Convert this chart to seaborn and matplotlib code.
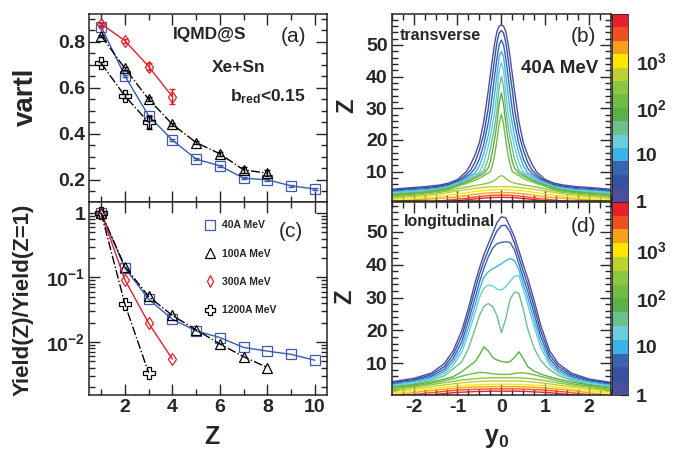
import numpy as np
import pandas as pd
import matplotlib
matplotlib.use("Agg")
import matplotlib.pyplot as plt
import seaborn as sns
from matplotlib.colors import ListedColormap, LogNorm
from matplotlib.cm import ScalarMappable
from matplotlib.ticker import MultipleLocator, FixedLocator, FixedFormatter, LogLocator, NullFormatter
from matplotlib.lines import Line2D

# ---------------- left panels: vartl and yields vs Z ----------------
z_charge = [1, 2, 3, 4, 5, 6, 7, 8, 9, 10]

vartl_40 = [0.865, 0.651, 0.478, 0.372, 0.290, 0.261, 0.207, 0.200, 0.174, 0.160]
vartl_100 = [0.825, 0.684, 0.550, 0.441, 0.362, 0.313, 0.243, 0.229]
vartl_300 = [0.877, 0.804, 0.692, 0.561]
vartl_1200 = [0.706, 0.564, 0.449]
err_40 = [0.003, 0.004, 0.004, 0.004, 0.004, 0.004, 0.005, 0.005, 0.005, 0.005]
err_100 = [0.005, 0.008, 0.008, 0.006, 0.006, 0.008, 0.012, 0.012]
err_300 = [0.006, 0.008, 0.017, 0.033]
err_1200 = [0.006, 0.010, 0.030]

yield_40 = [1.0, 0.140, 0.046, 0.0225, 0.0148, 0.0117, 0.0082, 0.0072, 0.0064, 0.0052]
yield_100 = [1.0, 0.148, 0.0507, 0.0257, 0.0154, 0.0093, 0.0059, 0.0040]
yield_300 = [1.0, 0.092, 0.0195, 0.0054]
yield_1200 = [1.0, 0.0385, 0.0033]

energies = ["40A MeV", "100A MeV", "300A MeV", "1200A MeV"]

# ---------------- right panels: contour lines Z(y0) per level ----------------
# level edges: 14 bands from 1 to 1e4 (log)
band_colors = ["#4c4ea0", "#3452a0", "#3a64b0", "#3ab4e8", "#6cccdc", "#6cc08c", "#5bb04a",
               "#72bb45", "#8dc641", "#bdd133", "#ffe600", "#f7a11a", "#f04e23", "#e8202a"]

# (b) transverse, symmetric: right half only
y0_half_b = [0, 0.05, 0.1, 0.15, 0.2, 0.25, 0.3, 0.4, 0.5, 0.6, 0.7, 0.8, 0.9, 1.0, 1.2, 1.4, 1.7, 2.0, 2.5]
z_trans = [
    [56.3, 55.9, 54.3, 50.7, 46.0, 40.7, 35.4, 25.8, 19.2, 15.3, 12.3, 10.0, 8.75, 7.5, 6.4, 5.8, 5.3, 5.0, 4.45],
    [54.5, 53.8, 50.8, 46.0, 40.7, 35.7, 29.8, 21.9, 16.8, 13.0, 10.5, 9.1, 7.95, 7.15, 6.0, 5.45, 4.95, 4.7, 4.15],
    [51.5, 50.0, 45.8, 40.6, 35.0, 29.5, 25.3, 18.7, 14.0, 11.1, 9.4, 8.4, 7.45, 6.85, 5.7, 5.15, 4.65, 4.4, 3.85],
    [47.9, 46.3, 40.6, 34.8, 29.2, 25.1, 21.3, 15.8, 11.85, 9.6, 8.7, 7.8, 7.1, 6.55, 5.45, 4.85, 4.35, 4.1, 3.55],
    [44.4, 42.0, 35.0, 28.9, 24.8, 21.1, 17.9, 12.8, 9.8, 9.0, 8.1, 7.35, 6.8, 6.3, 5.2, 4.6, 4.05, 3.8, 3.25],
    [40.0, 36.8, 29.5, 24.6, 20.8, 17.3, 14.0, 10.35, 9.25, 8.4, 7.6, 7.0, 6.5, 6.0, 4.95, 4.35, 3.8, 3.5, 2.95],
    [34.9, 31.3, 25.2, 20.6, 16.6, 13.2, 11.2, 9.47, 8.7, 7.95, 7.3, 6.77, 6.26, 5.74, 4.7, 4.1, 3.55, 3.2, 2.65],
    [28.1, 25.0, 20.0, 15.5, 12.3, 10.0, 9.58, 8.75, 7.92, 7.26, 6.78, 6.3, 5.83, 5.35, 4.4, 3.85, 3.3, 2.9, 2.35],
    [8.7, 8.5, 7.9, 7.3, 6.9, 6.6, 6.4, 6.1, 5.85, 5.6, 5.35, 5.1, 4.85, 4.6, 3.95, 3.45, 2.95, 2.55, 2.05],
    [5.3, 5.3, 5.28, 5.25, 5.22, 5.18, 5.13, 5.0, 4.85, 4.7, 4.5, 4.3, 4.1, 3.9, 3.45, 3.0, 2.5, 2.15, 1.7],
    [4.3, 4.3, 4.28, 4.26, 4.24, 4.2, 4.15, 4.05, 3.9, 3.75, 3.55, 3.35, 3.15, 2.95, 2.6, 2.25, 1.85, 1.5, 1.1],
    [3.4, 3.4, 3.38, 3.36, 3.33, 3.3, 3.25, 3.15, 3.0, 2.85, 2.65, 2.45, 2.25, 2.05, 1.8, 1.6, 1.3, 1.05, 0.5],
    [2.6, 2.6, 2.58, 2.55, 2.52, 2.48, 2.43, 2.3, 2.15, 1.98, 1.8, 1.6, 1.45, 1.35, 1.05, 0.75, 0.3, 0.0, 0.0],
    [1.9, 1.9, 1.88, 1.86, 1.83, 1.8, 1.76, 1.66, 1.54, 1.4, 1.25, 1.1, 0.95, 0.8, 0.45, 0.1, 0.0, 0.0, 0.0],
]

# (d) longitudinal, full range
y0_d = [-2.5, -2.0, -1.6, -1.3, -1.1, -0.9, -0.75, -0.6, -0.5, -0.4, -0.3, -0.2, -0.1, 0,
        0.1, 0.2, 0.3, 0.4, 0.5, 0.6, 0.75, 0.9, 1.1, 1.3, 1.6, 2.0, 2.5]
z_long = [
    [4.4, 5.4, 7.0, 9.9, 13.8, 20.0, 26.8, 34.5, 39.0, 43.0, 46.3, 49.5, 52.8, 54.6, 54.3, 51.5, 48.5, 44.3, 40.0, 36.0, 29.0, 21.5, 13.8, 9.9, 7.0, 5.2, 4.2],
    [4.1, 5.0, 6.5, 9.0, 12.6, 18.3, 25.0, 32.3, 37.0, 41.0, 44.3, 47.5, 50.3, 51.9, 52.0, 50.0, 46.5, 42.3, 38.0, 34.0, 27.0, 19.7, 12.6, 9.1, 6.5, 4.9, 3.9],
    [3.8, 4.7, 6.0, 8.2, 11.4, 16.6, 23.0, 29.9, 34.7, 38.8, 42.3, 45.0, 46.4, 46.8, 47.0, 46.8, 44.5, 40.3, 36.0, 32.0, 25.0, 18.0, 11.5, 8.3, 6.0, 4.6, 3.6],
    [3.5, 4.4, 5.6, 7.5, 10.3, 15.0, 21.0, 27.6, 32.4, 36.2, 37.8, 38.8, 39.5, 40.3, 41.2, 41.9, 41.3, 38.5, 34.2, 30.0, 23.0, 16.3, 10.5, 7.6, 5.6, 4.3, 3.3],
    [3.2, 4.1, 5.2, 6.9, 9.3, 13.5, 19.0, 25.3, 30.0, 32.8, 33.8, 33.6, 32.6, 32.3, 33.3, 35.0, 36.5, 36.8, 32.5, 28.0, 21.0, 14.7, 9.5, 7.0, 5.2, 4.0, 3.0],
    [2.9, 3.7, 4.8, 6.2, 8.3, 10.5, 14.5, 20.5, 24.5, 27.3, 28.2, 27.3, 24.5, 19.3, 23.5, 29.5, 31.7, 31.3, 26.5, 20.5, 14.5, 10.8, 8.0, 6.3, 4.8, 3.6, 2.7],
    [2.6, 3.4, 4.3, 5.2, 5.9, 7.5, 9.0, 10.5, 12.5, 15.0, 13.8, 11.8, 11.0, 10.6, 10.3, 10.5, 11.8, 13.5, 11.5, 9.0, 7.6, 6.7, 5.9, 5.2, 4.3, 3.4, 2.4],
    [2.1, 3.1, 3.9, 4.7, 5.3, 6.1, 6.6, 7.0, 7.2, 7.2, 7.0, 6.8, 6.7, 6.6, 6.6, 6.7, 6.9, 7.1, 7.1, 6.9, 6.5, 6.0, 5.3, 4.6, 3.8, 3.0, 2.0],
    [1.8, 2.8, 3.5, 4.1, 4.5, 4.9, 5.1, 5.3, 5.4, 5.5, 5.55, 5.6, 5.6, 5.6, 5.6, 5.6, 5.6, 5.6, 5.5, 5.4, 5.2, 4.9, 4.5, 4.0, 3.4, 2.7, 1.7],
    [1.4, 2.3, 2.9, 3.4, 3.75, 4.05, 4.25, 4.4, 4.5, 4.55, 4.58, 4.6, 4.6, 4.6, 4.6, 4.6, 4.6, 4.58, 4.55, 4.45, 4.25, 4.05, 3.75, 3.35, 2.85, 2.25, 1.35],
    [0.9, 1.7, 2.3, 2.7, 3.0, 3.2, 3.35, 3.45, 3.5, 3.55, 3.58, 3.6, 3.6, 3.6, 3.6, 3.6, 3.6, 3.58, 3.55, 3.48, 3.35, 3.2, 3.0, 2.7, 2.25, 1.65, 0.85],
    [0.3, 1.1, 1.7, 2.1, 2.35, 2.55, 2.7, 2.78, 2.83, 2.87, 2.89, 2.9, 2.9, 2.9, 2.9, 2.9, 2.9, 2.88, 2.85, 2.8, 2.7, 2.55, 2.35, 2.1, 1.7, 1.05, 0.25],
    [0.0, 0.5, 1.05, 1.45, 1.7, 1.9, 2.0, 2.08, 2.13, 2.16, 2.18, 2.2, 2.2, 2.2, 2.2, 2.2, 2.2, 2.18, 2.15, 2.1, 2.0, 1.9, 1.7, 1.45, 1.05, 0.45, 0.0],
    [0.0, 0.0, 0.4, 0.8, 1.05, 1.2, 1.3, 1.38, 1.42, 1.45, 1.48, 1.5, 1.5, 1.5, 1.5, 1.5, 1.5, 1.48, 1.45, 1.4, 1.3, 1.2, 1.05, 0.8, 0.4, 0.0, 0.0],
]

# ---------------- style ----------------
sns.set_theme(style="ticks")
plt.rcParams["font.family"] = ["Liberation Sans", "DejaVu Sans"]
plt.rcParams["font.weight"] = "bold"
plt.rcParams["mathtext.fontset"] = "custom"
plt.rcParams["mathtext.rm"] = "Liberation Sans:bold"
plt.rcParams["mathtext.bf"] = "Liberation Sans:bold"
plt.rcParams["mathtext.default"] = "bf"
plt.rcParams["axes.linewidth"] = 1.1
plt.rcParams["axes.unicode_minus"] = False

W, H = 681, 451
fig = plt.figure(figsize=(W / 100, H / 100), dpi=100)


def px_axes(x0, y0, x1, y1):
    return fig.add_axes([x0 / W, 1 - y1 / H, (x1 - x0) / W, (y1 - y0) / H])


def px_text(x, y, s, **kw):
    fig.text(x / W, 1 - y / H, s, **kw)


ax_a = px_axes(89.3, 14, 326.7, 201.7)
ax_c = px_axes(89.3, 201.7, 326.7, 395)
ax_b = px_axes(391.7, 13.5, 611, 200.5)
ax_d = px_axes(391.7, 202, 611, 395)
cax_b = px_axes(611.7, 14, 627.7, 201.7)
cax_d = px_axes(611.7, 201.7, 627.7, 395)

blue = "#3a5bb0"
red = "#e5202a"
styles = {
    "40A MeV": dict(color=blue, marker="s", linestyle="-", ms=7.5),
    "100A MeV": dict(color="black", marker="^", linestyle="-.", ms=7.5),
    "300A MeV": dict(color=red, marker="d", linestyle="-", ms=6.5),
    "1200A MeV": dict(color="black", marker="P", linestyle="-.", ms=8),
}
vartl_sets = [vartl_40, vartl_100, vartl_300, vartl_1200]
err_sets = [err_40, err_100, err_300, err_1200]
yield_sets = [yield_40, yield_100, yield_300, yield_1200]

for name, v, e, yv in zip(energies, vartl_sets, err_sets, yield_sets):
    st = styles[name]
    zz = z_charge[:len(v)]
    ax_a.errorbar(zz, v, yerr=e, fmt="none", ecolor=st["color"], elinewidth=1, capsize=2)
    sns.lineplot(x=zz, y=v, ax=ax_a, color=st["color"], marker=st["marker"], ms=st["ms"],
                 mfc="none", mec=st["color"], mew=0.9, linestyle=st["linestyle"], lw=1.0,
                 errorbar=None)
    zz = z_charge[:len(yv)]
    sns.lineplot(x=zz, y=yv, ax=ax_c, color=st["color"], marker=st["marker"], ms=st["ms"],
                 mfc="none", mec=st["color"], mew=0.9, linestyle=st["linestyle"], lw=1.0,
                 errorbar=None)

for ax in (ax_a, ax_c):
    ax.set_xlim(0.5, 10.5)
    ax.xaxis.set_major_locator(MultipleLocator(2))
    ax.xaxis.set_minor_locator(MultipleLocator(1))
    ax.set_xlabel("")
    ax.set_ylabel("")

ax_a.set_ylim(0.105, 0.92)
ax_a.yaxis.set_major_locator(FixedLocator([0.2, 0.4, 0.6, 0.8]))
ax_a.yaxis.set_major_formatter(FixedFormatter(["0.2", "0.4", "0.6", "0.8"]))
ax_a.yaxis.set_minor_locator(MultipleLocator(0.05))
ax_a.tick_params(labelbottom=False)

ax_c.set_yscale("log")
ax_c.set_ylim(0.0015, 1.5)
ax_c.yaxis.set_major_locator(FixedLocator([0.01, 0.1, 1]))
ax_c.yaxis.set_major_formatter(FixedFormatter(["10$^{-2}$", "10$^{-1}$", "1"]))
ax_c.yaxis.set_minor_locator(LogLocator(base=10, subs=np.arange(2, 10)))
ax_c.yaxis.set_minor_formatter(NullFormatter())

handles = [Line2D([], [], linestyle="none", marker=styles[n]["marker"], ms=styles[n]["ms"] * 0.9,
                  mfc="none", mec=styles[n]["color"], mew=0.9) for n in energies]
ax_c.legend(handles, energies, loc="upper left", bbox_to_anchor=(204.8 / W, 1 - 220.5 / H),
            bbox_transform=fig.transFigure, frameon=False, fontsize=7.5, borderpad=0,
            borderaxespad=0, handlelength=1.0, handletextpad=0.65, labelspacing=1.75)

# ---------------- contour panels ----------------
y0_b = [-v for v in y0_half_b[:0:-1]] + y0_half_b
rows_b = []
for k, zh in enumerate(z_trans):
    zf = zh[:0:-1] + zh
    rows_b += [dict(y0=a, Z=b, level=k) for a, b in zip(y0_b, zf)]
df_b = pd.DataFrame(rows_b)

rows_d = []
for k, zl in enumerate(z_long):
    rows_d += [dict(y0=a, Z=b, level=k) for a, b in zip(y0_d, zl)]
df_d = pd.DataFrame(rows_d)

pal = dict(zip(range(len(band_colors)), band_colors))
sns.lineplot(data=df_b, x="y0", y="Z", hue="level", palette=pal, estimator=None,
             sort=False, legend=False, lw=1.0, ax=ax_b)
sns.lineplot(data=df_d, x="y0", y="Z", hue="level", palette=pal, estimator=None,
             sort=False, legend=False, lw=1.0, ax=ax_d)

ax_b.set_ylim(0.9, 59.9)
ax_d.set_ylim(0.35, 59.1)
for ax in (ax_b, ax_d):
    ax.set_xlim(-2.5, 2.5)
    ax.xaxis.set_major_locator(MultipleLocator(1))
    ax.xaxis.set_minor_locator(MultipleLocator(0.25))
    ax.yaxis.set_major_locator(FixedLocator([10, 20, 30, 40, 50]))
    ax.yaxis.set_minor_locator(MultipleLocator(2))
    ax.set_xlabel("")
    ax.set_ylabel("")
ax_b.tick_params(labelbottom=False)

for ax in (ax_a, ax_c, ax_b, ax_d):
    ax.tick_params(which="both", direction="in", top=True, right=True, width=1.0)
    ax.tick_params(which="major", length=8, labelsize=14, pad=3)
    ax.tick_params(which="minor", length=4)

cmap = ListedColormap(band_colors)
norm = LogNorm(vmin=1, vmax=1e4)
for cax in (cax_b, cax_d):
    cb = fig.colorbar(ScalarMappable(norm=norm, cmap=cmap), cax=cax)
    cb.outline.set_linewidth(0.6)
    cax.yaxis.set_major_locator(FixedLocator([1, 10, 100, 1000]))
    cax.yaxis.set_major_formatter(FixedFormatter(["1", "10", "10$^2$", "10$^3$"]))
    cax.yaxis.set_minor_locator(LogLocator(base=10, subs=np.arange(2, 10)))
    cax.yaxis.set_minor_formatter(NullFormatter())
    cax.tick_params(which="both", direction="in", right=True, left=False, width=0.9)
    cax.tick_params(which="major", length=6, labelsize=14, pad=6)
    cax.tick_params(which="minor", length=3)

# ---------------- labels and annotations ----------------
px_text(25.7, 96.7, "vartl", fontsize=20, rotation=90, ha="center", va="center")
px_text(23, 300, "Yield(Z)/Yield(Z=1)", fontsize=16, rotation=90, ha="center", va="center")
px_text(211.7, 436.5, "Z", fontsize=18, ha="center", va="center")
px_text(347, 106, "Z", fontsize=17, rotation=90, ha="center", va="center")
px_text(345, 297, "Z", fontsize=17, rotation=90, ha="center", va="center")
px_text(497, 438, "y$_0$", fontsize=18, ha="center", va="center")

px_text(173, 34, "IQMD@S", fontsize=12.5, ha="left", va="center")
px_text(293, 37, "(a)", fontsize=15, fontweight="normal", ha="center", va="center")
px_text(239, 67, "Xe+Sn", fontsize=12.5, ha="center", va="center")
px_text(230, 101.5, "b$_{red}$<0.15", fontsize=12.5, ha="left", va="baseline")
px_text(291, 231.7, "(c)", fontsize=15, fontweight="normal", ha="center", va="center")

px_text(400, 35, "transverse", fontsize=11.5, ha="left", va="center")
px_text(583, 36, "(b)", fontsize=15, fontweight="normal", ha="center", va="center")
px_text(560, 68.3, "40A MeV", fontsize=13.5, ha="center", va="center")
px_text(404, 221.7, "longitudinal", fontsize=11.5, ha="left", va="center")
px_text(583, 226.7, "(d)", fontsize=15, fontweight="normal", ha="center", va="center")

fig.savefig("out.png", dpi=100)
